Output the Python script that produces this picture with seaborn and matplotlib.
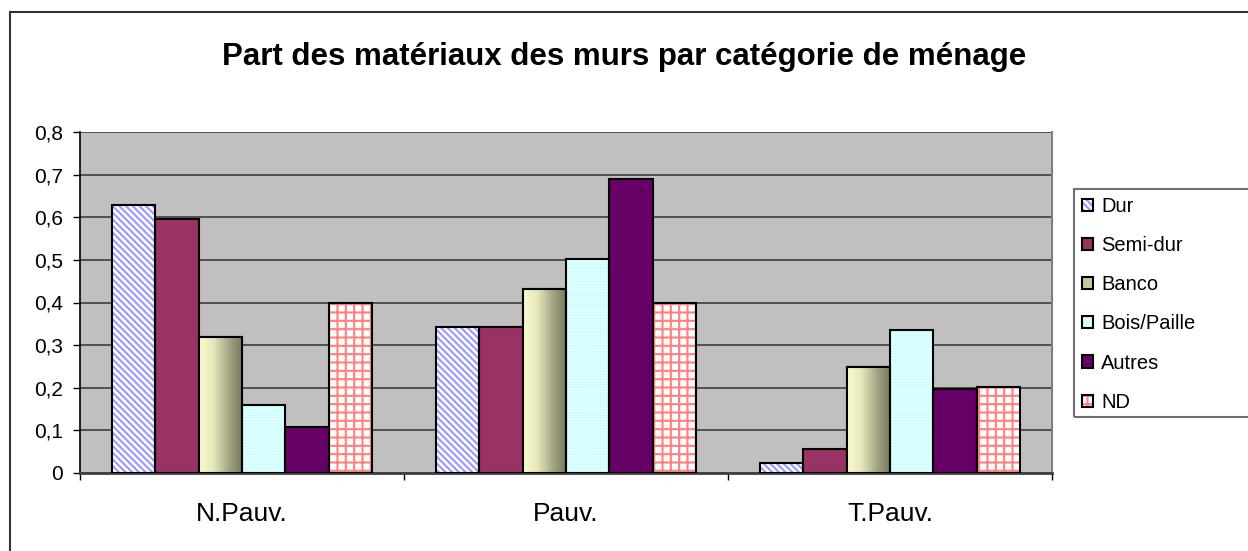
import seaborn as sns
import matplotlib.pyplot as plt
import pandas as pd
import numpy as np
from matplotlib.patches import Patch, Rectangle
from matplotlib.colors import LinearSegmentedColormap
from matplotlib.legend_handler import HandlerTuple

# Values
categories = ['N.Pauv.', 'Pauv.', 'T.Pauv.']
materials = ['Dur', 'Semi-dur', 'Banco', 'Bois/Paille', 'Autres', 'ND']
dur = [0.629, 0.343, 0.024]
semi_dur = [0.596, 0.343, 0.057]
banco = [0.319, 0.432, 0.249]
bois_paille = [0.160, 0.502, 0.335]
autres = [0.109, 0.690, 0.198]
nd = [0.398, 0.398, 0.202]
y_ticks = [0, 0.1, 0.2, 0.3, 0.4, 0.5, 0.6, 0.7, 0.8]

values = [dur, semi_dur, banco, bois_paille, autres, nd]
df = pd.DataFrame([
    {'categorie': c, 'materiau': m, 'part': v[i]}
    for m, v in zip(materials, values)
    for i, c in enumerate(categories)
])

# fill colours, hatch patterns
face_colors = ['white', '#993366', '#C8C8A0', 'white', '#660066', 'white']
hatches = {0: ('\\\\\\\\\\', '#9999FF'), 3: ('------', '#CCFFFF'), 5: ('++', '#FF8080')}

sns.set_style("white")
plt.rcParams['font.family'] = ['Liberation Sans', 'DejaVu Sans']
plt.rcParams['text.color'] = 'black'
plt.rcParams['xtick.color'] = 'black'
plt.rcParams['ytick.color'] = 'black'
plt.rcParams['hatch.linewidth'] = 1.5

W, H = 1248, 551
fig = plt.figure(figsize=(W / 100, H / 100), dpi=100)
ax = fig.add_axes([80 / W, 1 - 473 / H, (1052 - 80) / W, (473 - 132) / H])

sns.barplot(data=df, x='categorie', y='part', hue='materiau', order=categories,
            hue_order=materials, palette=face_colors, saturation=1, width=0.805,
            edgecolor='black', linewidth=1.5, legend=False, ax=ax, zorder=3)

# hatched series: patch edge carries the hatch colour, black outline on top
for idx, (hatch, hcol) in hatches.items():
    for p in ax.containers[idx]:
        p.set_hatch(hatch)
        p.set_edgecolor(hcol)
        p.set_linewidth(0)
        ax.add_patch(Rectangle(p.get_xy(), p.get_width(), p.get_height(), fill=False,
                               edgecolor='black', linewidth=1.5, zorder=4))

# Banco: horizontal gradient clipped to each bar
grad_cmap = LinearSegmentedColormap.from_list('banco', ['#FCFCD0', '#E6E6BA', '#A8A888', '#76765A'])
grad = np.linspace(0, 1, 256).reshape(1, -1)
for p in ax.containers[2]:
    x0, y0 = p.get_xy()
    w, h = p.get_width(), p.get_height()
    im = ax.imshow(grad, extent=[x0, x0 + w, y0, y0 + h], aspect='auto', cmap=grad_cmap,
                   zorder=3.5, interpolation='bilinear')
    im.set_clip_path(p)
    ax.add_patch(Rectangle((x0, y0), w, h, fill=False, edgecolor='black', linewidth=1.5, zorder=4))

ax.set_xlim(-0.5, 2.5)
ax.set_ylim(0, 0.8)
ax.set_facecolor('#C0C0C0')
ax.set_yticks(y_ticks)
ax.set_yticklabels([f'{t:g}'.replace('.', ',') for t in y_ticks], fontsize=15)
ax.yaxis.grid(True, color='#505050', linewidth=1.4, zorder=1)
ax.set_axisbelow(True)
ax.tick_params(axis='y', direction='out', length=5, width=1, color='black', left=True, pad=7)
ax.set_xticks([0, 1, 2])
ax.set_xticklabels(categories, fontsize=19)
ax.set_xticks([-0.5, 0.5, 1.5, 2.5], minor=True)
ax.tick_params(axis='x', which='major', length=0, pad=21)
ax.tick_params(axis='x', which='minor', direction='out', length=5, width=1, color='black', bottom=True)
ax.set_xlabel('')
ax.set_ylabel('')
ax.spines['top'].set_visible(False)
ax.spines['right'].set_color('#808080')
ax.spines['right'].set_linewidth(1.5)
ax.spines['left'].set_color('black')
ax.spines['left'].set_linewidth(1.2)
ax.spines['bottom'].set_color('#404040')
ax.spines['bottom'].set_linewidth(2)

# legend with small square keys; its box runs off the right edge
handles = []
for i, m in enumerate(materials):
    if i in hatches:
        hatch, hcol = hatches[i]
        base = Patch(facecolor='white', edgecolor=hcol, hatch=hatch, linewidth=0)
        handles.append((base, Patch(fill=False, edgecolor='black', linewidth=1.5)))
    else:
        handles.append(Patch(facecolor=face_colors[i], edgecolor='black', linewidth=1.5))
leg = fig.legend(handles, materials, loc='upper left', bbox_to_anchor=(1074 / W, 1 - 189 / H),
                 fontsize=14.5, frameon=False,
                 handlelength=0.55, handleheight=0.55, handletextpad=0.4, labelspacing=1.0,
                 borderpad=0.4, borderaxespad=0, handler_map={tuple: HandlerTuple(ndivide=1)})
fig.patches.append(Rectangle((1074 / W, 1 - 417 / H), 200 / W, (417 - 189) / H,
                             transform=fig.transFigure, fill=False, edgecolor='#707070',
                             linewidth=1.5))

# title and outer chart border
fig.text(0.5, 1 - 57 / H, 'Part des matériaux des murs par catégorie de ménage',
         ha='center', va='center', fontsize=22.5, fontweight='bold')
fig.patches.append(Rectangle((10 / W, -0.1), 1.2, 1.1 - 12 / H, transform=fig.transFigure,
                             fill=False, edgecolor='#333333', linewidth=1.5))

fig.savefig('out.png', dpi=100, facecolor='white')
